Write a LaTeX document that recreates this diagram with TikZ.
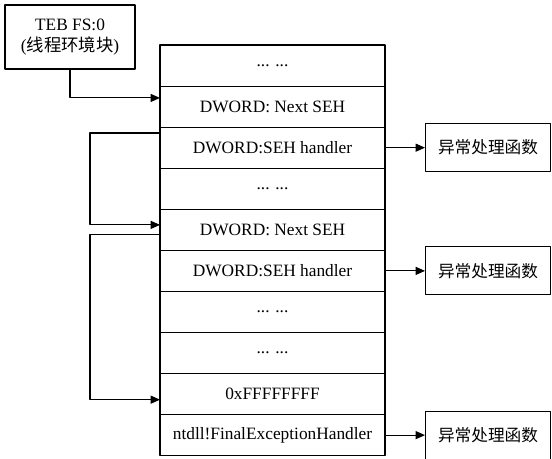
\documentclass[tikz,border=0pt]{standalone}
\usepackage{fontspec}
\setmainfont{Liberation Serif}
\newfontfamily\cjk{Noto Sans CJK SC}
\usetikzlibrary{arrows.meta,positioning}

\tikzset{
  slot/.style={draw,minimum width=168.75pt,minimum height=30.8pt,inner sep=0pt,outer sep=0pt},
  handlerbox/.style={draw,minimum width=93.75pt,minimum height=36pt,inner sep=0pt,font=\cjk\fontsize{12.5}{14}\selectfont},
  link/.style={-{Triangle[length=7pt,width=6pt]}}
}

\begin{document}
\begin{tikzpicture}[x=0.75pt,y=-0.75pt,line cap=round,line join=round,line width=0.8pt,font=\fontsize{13}{15.5}\selectfont]
\path[use as bounding box] (0,0) rectangle (552,459);
% TEB box
\node[draw,minimum width=97.5pt,minimum height=48pt,align=center,inner sep=0pt] (teb) at (70,37) {TEB FS:0\\({\cjk 线程环境块})};
% stack of the exception records
\node[slot] (r1) at (272.5,65.55) {... ...};
\node[slot,below=0pt of r1] (r2) {DWORD: Next SEH};
\node[slot,below=0pt of r2] (r3) {DWORD:SEH handler};
\node[slot,below=0pt of r3] (r4) {... ...};
\node[slot,below=0pt of r4] (r5) {DWORD: Next SEH};
\node[slot,below=0pt of r5] (r6) {DWORD:SEH handler};
\node[slot,below=0pt of r6] (r7) {... ...};
\node[slot,below=0pt of r7] (r8) {... ...};
\node[slot,below=0pt of r8] (r9) {0xFFFFFFFF};
\node[slot,below=0pt of r9] (r10) {ntdll!FinalExceptionHandler};
% handlers
\node[handlerbox,right=30pt of r3] (h1) {异常处理函数};
\node[handlerbox,right=30pt of r6] (h2) {异常处理函数};
\node[handlerbox,right=30pt of r10] (h3) {异常处理函数};
% links
\draw[link] (teb.south) |- ([yshift=6.5pt]r2.west);
\draw[link] ([yshift=11pt]r3.west) -- ++(-52.5pt,0) |- ([yshift=3.7pt]r5.west);
\draw[link] ([yshift=-3.8pt]r5.west) -- ++(-52.5pt,0) |- ([yshift=-4.2pt]r9.west);
\draw[link] (r3.east) -- (h1.west);
\draw[link] (r6.east) -- (h2.west);
\draw[link] (r10.east) -- (h3.west);
\end{tikzpicture}
\end{document}
